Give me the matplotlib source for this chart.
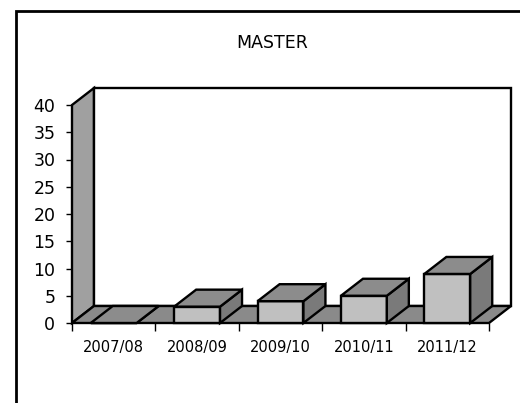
import matplotlib
matplotlib.use('Agg')
import matplotlib.pyplot as plt
from matplotlib.patches import Polygon, Rectangle

years = ['2007/08', '2008/09', '2009/10', '2010/11', '2011/12']
values = [0, 3, 4, 5, 9]
y_ticks = [0, 5, 10, 15, 20, 25, 30, 35, 40]

col_front = '#c0c0c0'
col_top = '#8c8c8c'
col_side = '#7a7a7a'
col_floor = '#8a8a8a'
col_wall = '#a0a0a0'

fig = plt.figure(figsize=(5.2, 4.03), dpi=100)
fig.patch.set_facecolor('white')

# outer chart frame
fig.patches.append(Rectangle((16 / 520, -0.1), 1.2, (403 - 11) / 403 + 0.1,
                             transform=fig.transFigure, fill=False,
                             edgecolor='black', linewidth=2))
fig.text(272 / 520, 1 - 43 / 403, 'MASTER', ha='center', va='center', fontsize=12.5)

ax = fig.add_axes([72 / 520, 80 / 403, 417 / 520, 218 / 403])
n = len(years)
ax.set_xlim(0, n)
ax.set_ylim(0, 40)
ax.set_facecolor('none')
for s in ax.spines.values():
    s.set_visible(False)

# depth offset in data units (about 22 px right, 17 px up)
dx = 22 / (417 / n)
dy = 17 / (218 / 40)
lw = 1.7


def poly(pts, fc, z=1):
    ax.add_patch(Polygon(pts, closed=True, facecolor=fc, edgecolor='black',
                         linewidth=lw, clip_on=False, joinstyle='miter', zorder=z))


# walls and floor
poly([(0, 0), (0, 40), (dx, 40 + dy), (dx, dy)], col_wall)
poly([(dx, dy), (dx, 40 + dy), (n + dx, 40 + dy), (n + dx, dy)], 'white')
poly([(0, 0), (n, 0), (n + dx, dy), (dx, dy)], col_floor)

# bars
bw = 0.55
for i, v in enumerate(values):
    x0 = i + 0.5 - bw / 2
    x1 = i + 0.5 + bw / 2
    ax.bar(i + 0.5, v, width=bw, color=col_front, edgecolor='black',
           linewidth=lw, clip_on=False, zorder=3)
    poly([(x1, 0), (x1, v), (x1 + dx, v + dy), (x1 + dx, dy)], col_side, 3)
    poly([(x0, v), (x1, v), (x1 + dx, v + dy), (x0 + dx, v + dy)], col_top, 3)

ax.set_yticks(y_ticks)
ax.tick_params(axis='y', length=4, width=1, pad=8, labelsize=12.5)
ax.set_xticks(range(n + 1))
ax.set_xticklabels([])
ax.set_xticks([i + 0.5 for i in range(n)], minor=True)
ax.set_xticklabels(years, minor=True)
ax.tick_params(axis='x', which='major', length=6, width=1)
ax.tick_params(axis='x', which='minor', length=0, pad=12, labelsize=10.5)

plt.savefig('out.png', dpi=100)
